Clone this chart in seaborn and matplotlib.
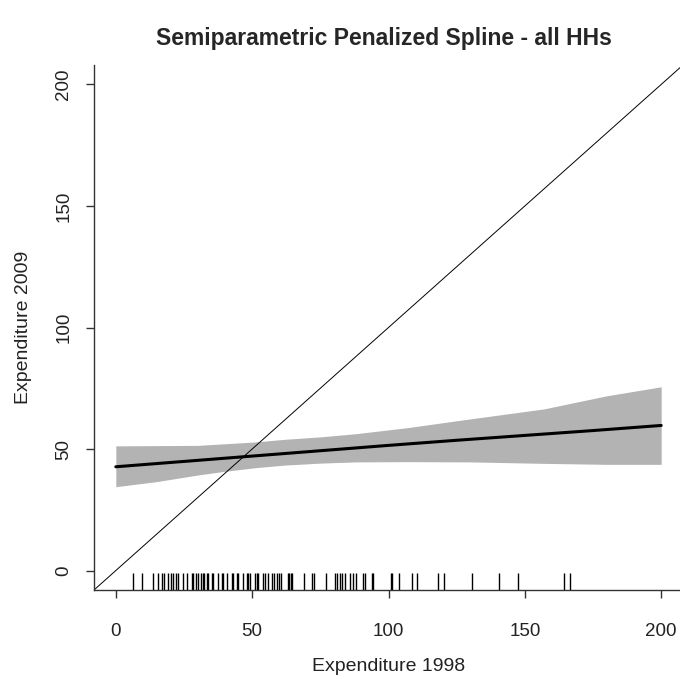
import numpy as np
import matplotlib
matplotlib.use("Agg")
import matplotlib.pyplot as plt
import seaborn as sns

# Fitted spline and confidence band
fit_x = [0, 25, 50, 75, 100, 125, 150, 175, 200]
fit_y = [42.7, 44.9, 47.1, 49.3, 51.5, 53.6, 55.6, 57.6, 59.7]

band_x = [0, 15, 30, 39, 51, 62, 75, 88, 107, 130, 157, 180, 200]
band_lo = [34.5, 36.6, 39.3, 40.7, 42.3, 43.4, 44.2, 44.7, 44.8, 44.7, 44.1, 43.7, 43.7]
band_hi = [51.3, 51.4, 51.5, 52.1, 52.9, 54.0, 55.0, 56.3, 58.8, 62.4, 66.5, 71.9, 75.6]

# Observed 1998 expenditure (rug marks)
rug_x = [6.2, 9.5, 13.6, 15.4, 16.9, 17.6, 19.1, 20.2, 20.9, 22.0, 22.8, 24.6,
         26.1, 27.9, 28.3, 29.4, 30.1, 31.2, 31.9, 32.3, 33.4, 33.8, 35.2, 35.6,
         37.4, 38.9, 39.3, 40.7, 42.6, 42.9, 44.4, 44.8, 46.6, 48.1, 48.4, 49.2,
         51.0, 51.7, 52.1, 53.9, 54.7, 55.8, 57.2, 58.0, 59.1, 59.8, 60.6, 63.1,
         63.5, 64.2, 64.6, 69.0, 71.9, 72.7, 77.1, 80.4, 81.1, 82.2, 82.9, 84.0,
         85.9, 87.0, 88.1, 90.6, 91.4, 93.9, 94.3, 100.9, 101.3, 103.9, 108.6,
         110.5, 118.2, 120.4, 130.6, 140.6, 147.5, 164.4, 166.6]

ticks = [0, 50, 100, 150, 200]

sns.set_style("white")
plt.rcParams['font.family'] = ['Liberation Sans', 'DejaVu Sans']

fig = plt.figure(figsize=(6.8, 6.79), dpi=100)
ax = fig.add_axes([94 / 680, 89 / 679, 589 / 680, 525 / 679])

ax.fill_between(band_x, band_lo, band_hi, color='#b3b3b3', lw=0)
sns.lineplot(x=fit_x, y=fit_y, ax=ax, color='black', lw=2.2)
ax.axline((0, 0), slope=1, color='black', lw=0.7)
sns.rugplot(x=rug_x, ax=ax, height=0.033, color='black', lw=1, expand_margins=False)

ax.set_xlim(-8, 208)
ax.set_ylim(-8, 208)
ax.set_xticks(ticks)
ax.set_yticks(ticks)
ax.set_yticklabels(ticks, rotation=90, va='center')

for side in ['top', 'right']:
    ax.spines[side].set_visible(False)
for side in ['left', 'bottom']:
    ax.spines[side].set_color('#333333')
    ax.spines[side].set_linewidth(1)

ax.tick_params(axis='both', bottom=True, left=True, direction='out', length=6,
               width=1, color='#333333', labelsize=13.5, labelcolor='#222222')
ax.tick_params(axis='x', pad=18)
ax.tick_params(axis='y', pad=9.5)

ax.set_xlabel('Expenditure 1998', fontsize=14, color='#222222', labelpad=13)
ax.set_ylabel('Expenditure 2009', fontsize=14, color='#222222', labelpad=17)
fig.text(0.565, 0.944, 'Semiparametric Penalized Spline - all HHs', ha='center',
         va='center', fontsize=16.5, fontweight='bold')

fig.savefig('out.png', dpi=100)
